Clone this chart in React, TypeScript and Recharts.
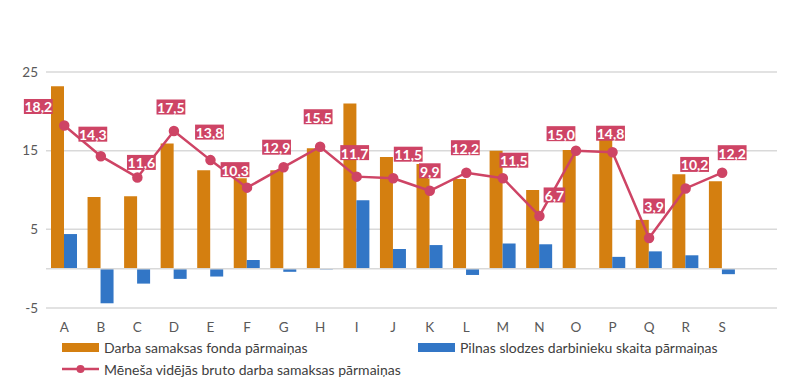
import {
  ComposedChart,
  Bar,
  Line,
  XAxis,
  YAxis,
  CartesianGrid,
  ReferenceLine,
  LabelList
} from "recharts";

const categories = ["A", "B", "C", "D", "E", "F", "G", "H", "I", "J", "K", "L", "M", "N", "O", "P", "Q", "R", "S", ""];

const fundChange = [23.2, 9.1, 9.2, 15.9, 12.5, 11.5, 12.5, 15.3, 21.0, 14.2, 13.3, 11.4, 15.0, 10.0, 15.1, 16.5, 6.2, 12.0, 11.1, null];

const staffChange = [4.4, -4.4, -1.9, -1.3, -1.0, 1.1, -0.4, -0.1, 8.7, 2.5, 3.0, -0.8, 3.2, 3.1, 0, 1.5, 2.2, 1.7, -0.7, null];

const wageChange = [18.2, 14.3, 11.6, 17.5, 13.8, 10.3, 12.9, 15.5, 11.7, 11.5, 9.9, 12.2, 11.5, 6.7, 15.0, 14.8, 3.9, 10.2, 12.2, null];

const yTicks = [-5, 5, 15, 25];

// label boxes were moved by hand in the original, so nudge each one (dx, dy from the point)
const labelNudge = [
  [-26, -19], [-8, -22], [4, -15], [-3, -24], [-1, -28], [-12, -18], [-7, -20],
  [-2, -30], [-2, -24], [15, -24], [0, -20], [-1, -25], [11, -18], [15, -21],
  [-15, -17], [-2, -19], [5, -32], [9, -24], [10, -20]
];

const ORANGE = "#D47F10";
const BLUE = "#3276C6";
const RED = "#CE4465";
const FONT = "Lato, 'Open Sans', sans-serif";

const data = categories.map((c, i) => ({
  name: c,
  fund: fundChange[i],
  staff: staffChange[i],
  wage: wageChange[i]
}));

const fmt = (v: number) => v.toFixed(1).replace(".", ",");

function WageLabel(props: any) {
  const { x, y, value, index } = props;
  if (value == null) return null;
  const [dx, dy] = labelNudge[index] || [0, -22];
  const text = fmt(value);
  const w = text.length * 7.2;
  const h = 15;
  const cx = x + dx;
  const cy = y + dy;
  return (
    <g>
      <rect x={cx - w / 2} y={cy - h / 2} width={w} height={h} fill={RED} />
      <text
        x={cx}
        y={cy + 0.5}
        textAnchor="middle"
        dominantBaseline="central"
        fill="#fff"
        fontSize={14}
        fontWeight="bold"
        fontFamily={FONT}
      >
        {text}
      </text>
    </g>
  );
}

const legendRow = {
  position: "absolute" as const,
  fontSize: 14,
  color: "#404040",
  display: "flex",
  alignItems: "center",
  height: 18
};

export default function App() {
  return (
    <div style={{ position: "absolute", left: 0, top: 0, width: 794, height: 386, fontFamily: FONT }}>

      <ComposedChart
        width={794}
        height={386}
        data={data}
        margin={{ top: 72, right: 17, left: 0, bottom: 48 }}
        barGap={0}
      >

        <CartesianGrid vertical={false} stroke="#D9D9D9" strokeWidth={1.5} />

        <XAxis
          dataKey="name"
          axisLine={false}
          tickLine={false}
          tickMargin={8}
          height={30}
          interval={0}
          tick={{ fill: "#595959", fontSize: 13.5, fontFamily: FONT }}
        />

        <YAxis
          domain={[-5, 25]}
          ticks={yTicks}
          width={46}
          axisLine={false}
          tickLine={false}
          tickMargin={2}
          tick={{ fill: "#595959", fontSize: 13.5, fontFamily: FONT }}
        />

        <ReferenceLine y={0} stroke="#D9D9D9" strokeWidth={1.5} />

        <Bar dataKey="fund" fill={ORANGE} barSize={13} isAnimationActive={false} />

        <Bar dataKey="staff" fill={BLUE} barSize={13} isAnimationActive={false} />

        <Line
          dataKey="wage"
          stroke={RED}
          strokeWidth={2.5}
          dot={{ r: 4, fill: RED, stroke: RED }}
          isAnimationActive={false}
        >
          <LabelList dataKey="wage" content={WageLabel} />
        </Line>

      </ComposedChart>

      <div style={{ ...legendRow, left: 62, top: 338 }}>
        <span style={{ display: "inline-block", width: 37, height: 9, background: ORANGE, marginRight: 5 }} />
        Darba samaksas fonda pārmaiņas
      </div>

      <div style={{ ...legendRow, left: 418, top: 338 }}>
        <span style={{ display: "inline-block", width: 37, height: 9, background: BLUE, marginRight: 5 }} />
        Pilnas slodzes darbinieku skaita pārmaiņas
      </div>

      <div style={{ ...legendRow, left: 62, top: 360 }}>
        <svg width={37} height={10} style={{ marginRight: 5 }}>
          <line x1={0} y1={5} x2={37} y2={5} stroke={RED} strokeWidth={2.5} />
          <circle cx={18.5} cy={5} r={4} fill={RED} />
        </svg>
        Mēneša vidējās bruto darba samaksas pārmaiņas
      </div>

    </div>
  );
}
